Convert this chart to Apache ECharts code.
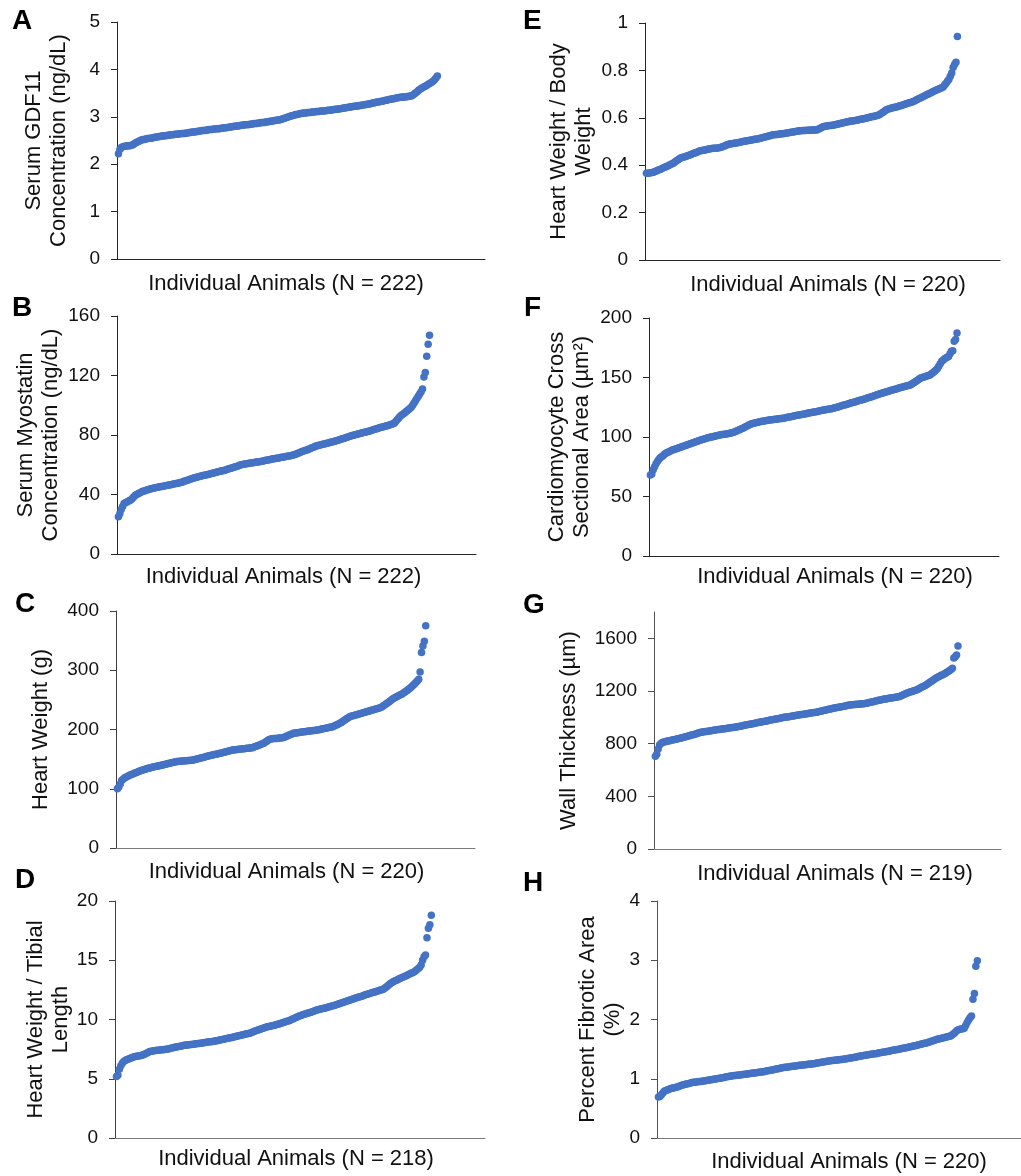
<!DOCTYPE html>
<html><head><meta charset="utf-8">
<script src="https://cdn.jsdelivr.net/npm/echarts@6/dist/echarts.min.js"></script>
<style>html,body{margin:0;padding:0;background:#fff;}#chart{width:1021px;height:1176px;}</style>
</head><body><div id="chart"></div>
<script>
// ---------- DATA (sorted per animal) ----------
const gdf11 = [2.22,2.31,2.35,2.37,2.38,2.38,2.39,2.39,2.39,2.40,2.41,
2.43,2.45,2.47,2.48,2.50,2.51,2.52,
2.52,2.53,2.54,2.54,2.55,2.55,2.56,2.57,2.57,2.58,2.58,2.59,
2.59,2.60,2.60,2.60,2.61,2.61,2.62,2.62,2.62,2.63,2.63,2.63,2.64,2.64,2.65,2.65,
2.65,2.66,2.66,2.67,2.67,2.68,2.68,2.68,2.69,2.69,2.70,
2.70,2.71,2.71,2.71,2.72,2.72,2.73,2.73,2.73,2.74,2.74,2.75,2.75,2.75,2.76,2.76,2.77,2.77,2.77,2.78,2.78,2.79,2.79,
2.80,2.80,2.80,2.81,2.81,2.82,2.82,2.83,2.83,2.83,2.84,2.84,2.85,2.85,2.86,2.86,2.86,2.87,2.87,2.88,2.88,2.88,2.89,2.89,
2.90,2.90,2.91,2.91,2.92,2.92,2.93,2.93,2.94,2.95,
2.96,2.97,2.98,2.99,3.00,3.01,
3.02,3.03,3.04,3.05,3.05,3.06,3.07,
3.07,3.08,3.08,3.08,3.09,3.09,3.09,3.10,3.10,3.10,3.11,3.11,3.11,3.12,3.12,3.12,3.13,3.13,
3.14,3.14,3.14,3.15,3.15,3.16,3.16,3.16,3.17,3.17,3.18,3.18,3.19,3.19,3.20,3.20,
3.21,3.21,3.22,3.22,3.23,3.23,3.24,3.24,3.25,3.25,3.26,3.26,
3.27,3.27,3.28,3.29,3.29,3.30,3.31,3.31,3.32,3.33,3.33,3.34,
3.35,3.35,3.36,3.37,3.37,3.38,3.38,3.39,3.40,3.40,3.41,
3.41,3.42,3.42,3.42,3.43,3.43,3.44,3.44,
3.46,3.48,3.51,3.53,
3.56,3.58,3.60,3.62,
3.64,3.65,3.67,3.69,3.71,
3.73,3.75,3.78,3.82,3.86];

const myostatin = [25,27,30,32,34,
34.5,35,35.5,36,36.5,
37.5,38.5,39.5,40,40.5,
41,41.5,42,42.3,42.6,43,43.2,
43.5,43.8,44,44.2,44.5,44.7,44.9,45.1,45.3,45.4,
45.6,45.8,46,46.2,46.4,46.6,46.8,47,47.2,47.4,47.6,47.7,
48,48.3,48.6,49,49.3,49.6,50,50.3,
50.6,50.9,51.2,51.4,51.7,52,52.2,52.5,52.7,52.9,53.1,53.3,
53.6,53.8,54.1,54.3,54.6,54.8,55.1,55.3,55.6,55.8,56,56.2,
56.5,56.8,57.1,57.4,57.7,58,58.3,58.6,58.9,59.2,59.6,60,
60.2,60.4,60.5,60.7,60.8,61,61.1,61.3,61.4,61.6,61.8,61.9,62.1,62.2,
62.4,62.6,62.8,63,63.2,63.4,63.6,63.8,64,64.1,64.3,64.4,
64.6,64.8,65,65.1,65.3,65.5,65.7,65.9,66.1,66.3,66.5,66.7,
67.1,67.5,67.9,68.3,68.7,69.1,69.4,69.7,70,
70.4,70.8,71.2,71.6,72,72.4,72.7,
73,73.2,73.5,73.7,74,74.2,74.5,74.7,75,75.2,75.4,75.6,
75.9,76.2,76.5,76.8,77.1,77.4,77.7,78,78.3,78.7,79,79.4,
79.6,79.8,80.1,80.3,80.6,80.8,81.1,81.3,81.6,81.8,82.1,82.3,
82.6,82.9,83.2,83.5,83.8,84.1,84.4,84.7,85,85.2,85.5,85.7,
86,86.3,86.6,86.9,87.2,87.5,87.9,
89,90.3,91.3,92.5,93.3,94,94.7,
95.5,96.3,97,97.8,98.6,
100,101.5,103,104.5,106,107.5,
109,111,119,122,133,141,147];

const heartWeight = [100,103,108,114,
116,118,119.5,120.6,
122,123,124,125,
126,127,128,129,130,131,131.8,
132.5,133,134,134.5,135,135.7,136.3,
137,137.5,138,138.5,139,139.5,140,140.6,141.2,141.9,
142.5,143,143.6,144.2,144.7,145.3,145.9,
146.2,146.4,146.6,146.8,147,147.2,147.4,147.6,147.8,148,148.3,148.7,
149.3,149.9,150.5,151.1,151.7,152.3,152.9,153.6,154.3,
154.9,155.5,156,156.6,157.2,157.7,158.3,158.8,159.4,159.9,
160.5,161.1,161.8,162.4,163,163.6,164.2,164.9,165.5,
165.8,166,166.3,166.5,166.8,167,167.3,167.6,167.9,168.2,168.5,168.8,169.1,169.4,
170.3,171.2,172.1,173,174,175,175.9,176.7,
178.5,180.3,182,183.3,184,
184.3,184.6,184.8,185,185.3,185.5,185.8,186,186.3,
187.3,188.5,189.6,190.6,191.6,192.6,193.5,
193.9,194.3,194.6,195,195.3,195.7,196,196.3,196.6,197,197.3,197.6,197.9,198.2,198.5,198.9,199.2,
199.7,200.2,200.7,201.2,201.7,202.2,202.7,203.2,203.7,204.2,204.8,
206,207,208.2,209.3,210.4,
212,213.6,215.2,216.8,218.4,220,221.6,
222.3,223,223.7,224.4,225.1,225.8,226.5,227.2,227.9,228.6,229.3,230,
230.7,231.4,232.1,232.8,233.5,234.2,234.9,235.6,236.3,237,
238.5,240,241.7,243.4,245.1,246.8,248.6,250.5,252.5,
253.7,254.9,256.1,257.3,258.5,259.7,261,
262.8,264.6,266.4,268.2,270,272,
274.5,277,279.5,282,285,
297,330,341,349,375];

const hwTibia = [5.2,5.3,5.8,
6.1,6.3,6.45,6.55,
6.6,6.65,6.7,6.75,6.8,6.85,
6.88,6.9,6.92,6.95,6.97,7.0,7.05,
7.12,7.18,7.24,7.3,
7.32,7.34,7.36,7.38,7.4,7.41,7.42,7.44,7.45,7.47,7.48,7.5,
7.53,7.56,7.59,7.62,7.65,7.67,7.7,7.72,7.75,7.77,7.8,
7.82,7.84,7.85,7.87,7.89,7.9,7.92,7.94,7.95,7.97,7.98,8.0,
8.02,8.04,8.06,8.08,8.1,8.12,8.13,8.15,8.17,8.18,8.2,
8.23,8.26,8.29,8.32,8.34,8.37,8.39,8.42,8.45,8.47,8.5,
8.53,8.56,8.59,8.62,8.65,8.68,8.71,8.74,8.77,8.8,8.82,8.85,
8.9,8.95,9.0,9.05,9.1,9.14,9.18,9.22,9.26,9.3,9.35,
9.38,9.41,9.44,9.47,9.5,9.52,9.55,
9.59,9.63,9.67,9.71,9.75,9.79,9.83,9.87,9.9,
9.96,10.02,10.07,10.13,10.18,10.24,10.3,
10.34,10.38,10.42,10.46,10.5,10.54,10.58,10.62,10.66,10.7,10.75,10.8,
10.83,10.86,10.89,10.92,10.95,10.98,11.01,11.05,11.08,11.12,11.15,
11.19,11.23,11.27,11.31,11.35,11.39,11.43,11.47,11.51,11.56,11.6,11.65,
11.69,11.73,11.77,11.81,11.85,11.89,11.93,11.97,12.01,12.06,12.1,
12.14,12.18,12.21,12.25,12.29,12.33,12.37,12.4,12.44,12.48,12.51,12.55,
12.65,12.75,12.85,12.95,13.05,13.12,13.2,
13.26,13.32,13.38,13.44,13.5,13.55,13.6,
13.66,13.72,13.78,13.84,13.9,13.95,14.0,
14.1,14.2,14.3,14.4,14.6,15.0,15.3,15.45,16.9,17.7,18.0,18.8];

const hwBody = [0.366,0.366,0.367,0.368,0.369,0.370,
0.373,0.376,0.379,0.381,0.383,
0.386,0.389,0.391,0.394,
0.397,0.400,0.403,0.406,0.408,
0.413,0.418,0.422,0.426,0.430,
0.432,0.434,0.436,0.438,0.440,0.442,0.444,
0.447,0.449,0.452,0.454,0.456,0.459,0.461,
0.462,0.463,0.464,0.465,0.467,0.468,0.469,
0.470,0.471,0.471,0.472,0.473,0.474,0.475,
0.477,0.479,0.481,0.484,0.486,0.488,0.490,
0.491,0.492,0.493,0.494,0.495,0.496,0.497,0.499,0.500,
0.501,0.502,0.503,0.504,0.505,0.506,0.507,0.509,0.510,0.511,0.512,0.514,
0.515,0.517,0.518,0.520,0.521,0.523,0.524,0.526,0.528,
0.529,0.530,0.530,0.531,0.532,0.533,0.533,0.534,0.535,0.536,0.537,0.538,
0.539,0.540,0.541,0.542,0.543,0.544,0.545,
0.545,0.546,0.546,0.546,0.547,0.547,0.547,0.548,0.548,0.548,0.549,0.549,
0.552,0.555,0.558,0.561,0.563,
0.564,0.565,0.566,0.567,0.568,0.569,0.570,
0.571,0.573,0.574,0.575,0.577,0.578,0.579,0.581,0.582,0.583,0.585,
0.586,0.587,0.588,0.589,0.590,0.591,0.593,0.594,0.595,0.596,0.597,0.599,
0.600,0.602,0.603,0.605,0.606,0.608,0.609,0.611,0.613,
0.617,0.621,0.625,0.630,0.634,
0.636,0.638,0.640,0.641,0.643,0.645,0.646,0.648,0.650,0.651,
0.653,0.655,0.657,0.659,0.661,0.663,0.665,0.667,0.669,
0.672,0.675,0.678,0.681,0.684,0.687,0.690,
0.693,0.696,0.699,0.702,0.705,0.708,0.711,
0.714,0.716,0.719,0.722,0.725,0.727,0.730,
0.738,0.746,0.754,0.762,
0.775,0.789,0.812,0.825,0.834,0.943];

const csa = [68,69,72.5,
75,77.5,79.5,81,
82.5,83.5,84.3,85.4,86.3,
86.9,87.5,88.1,88.6,89.2,
89.6,90,90.4,90.8,91.2,91.6,92,
92.4,92.8,93.3,93.7,94.1,94.5,95,95.4,
95.8,96.2,96.6,97,97.4,97.8,98.2,98.6,99,
99.3,99.6,99.9,100.1,100.4,100.7,101,101.2,101.5,101.8,
102,102.2,102.4,102.6,102.8,103,103.2,103.5,103.8,
104.3,104.8,105.3,105.8,106.4,106.9,107.4,
108,108.6,109.2,109.8,110.4,111,111.3,111.6,
111.9,112.2,112.5,112.8,113.1,113.3,113.5,113.7,113.9,
114.1,114.2,114.4,114.5,114.7,114.9,115,115.2,115.3,115.5,115.6,115.8,
116,116.3,116.5,116.8,117,117.3,117.5,117.8,118,118.2,118.5,118.7,
118.9,119.2,119.4,119.6,119.9,120.1,120.4,120.6,120.8,121.1,121.3,121.5,
121.7,122,122.2,122.4,122.6,122.9,123.1,123.3,123.6,123.8,124,124.3,
124.6,125,125.3,125.7,126,126.4,126.7,127.1,127.4,127.8,128.1,128.5,
128.8,129.2,129.5,129.9,130.2,130.6,130.9,131.3,131.6,132,132.3,132.7,
133.1,133.5,133.9,134.3,134.7,135.1,135.5,135.9,136.3,136.7,137,137.4,
137.8,138.1,138.5,138.8,139.2,139.5,139.9,140.2,140.6,140.9,141.3,141.7,
142,142.3,142.6,142.9,143.2,143.5,143.9,
144.7,145.5,146.3,147.1,147.9,148.7,149.5,
149.9,150.3,150.7,151.1,151.5,151.9,152.3,
153.3,154.3,155.3,156.3,157.5,
159.5,161.5,163.5,164.5,
165.5,166.3,167,167.7,170,172,
172.5,180.5,182,187.4];

const wall = [705,720,760,790,
802,808,812,815,
818,820,823,825,827,829,
832,834,837,840,842,845,847,
850,853,856,859,862,865,867,
870,874,877,881,885,
887,888,890,892,893,895,897,898,900,902,903,905,
907,908,910,911,913,914,916,917,919,920,922,923,
925,927,929,931,933,935,937,939,941,943,946,948,
950,952,954,956,958,960,962,964,966,968,971,973,
975,977,979,981,983,985,987,989,991,993,996,998,
1000,1002,1003,1005,1007,1009,1010,1012,1014,1015,1017,1019,
1021,1022,1024,1026,1027,1029,1031,1032,1034,1036,1037,1039,
1041,1044,1046,1049,1051,1054,1056,1059,1061,1064,1066,1069,
1071,1073,1075,1077,1079,1081,1083,1085,1087,1089,1092,1094,
1095,1096,1097,1098,1099,1100,1101,1102,1103,1104,1105,1107,
1109,1112,1114,1117,1119,1122,1124,1127,1129,1132,1134,1137,
1139,1140,1142,1144,1146,1147,1149,1151,1153,1154,1156,1158,
1163,1168,1173,1178,1183,
1187,1190,1194,1197,1201,1204,1208,
1213,1218,1224,1230,1235,1240,1246,
1253,1260,1268,1275,1282,1290,1297,
1302,1308,1313,1319,1324,1330,1335,
1342,1349,1356,1364,1372,
1450,1461,1474,1542];

const fibrosis = [0.69,0.70,0.73,
0.76,0.79,0.80,
0.81,0.82,0.83,
0.84,0.845,0.85,0.855,0.86,
0.87,0.88,0.89,0.90,
0.905,0.91,0.915,0.92,0.93,0.935,0.94,
0.943,0.946,0.949,0.952,0.955,0.958,0.962,0.966,0.97,
0.974,0.978,0.982,0.986,0.99,0.994,
0.998,1.003,1.008,1.013,1.018,1.023,1.028,1.033,1.038,1.043,1.047,1.05,
1.053,1.056,1.059,1.062,1.065,1.068,1.071,1.074,1.077,1.08,1.084,
1.088,1.091,1.095,1.098,1.102,1.105,1.109,1.113,1.116,1.12,1.124,
1.129,1.134,1.139,1.144,1.149,1.154,1.159,1.164,1.169,1.174,1.18,
1.184,1.188,1.192,1.195,1.199,1.203,1.206,1.21,1.213,1.217,1.22,
1.223,1.226,1.229,1.232,1.235,1.238,1.241,1.244,1.247,1.25,1.252,1.255,
1.26,1.264,1.269,1.273,1.278,1.282,1.287,1.291,1.295,1.299,1.303,
1.306,1.309,1.312,1.315,1.318,1.321,1.324,1.327,1.33,1.334,1.337,
1.342,1.346,1.351,1.355,1.36,1.364,1.369,1.374,1.378,1.383,1.388,
1.392,1.396,1.4,1.404,1.408,1.412,1.416,1.42,1.424,1.428,1.433,
1.437,1.442,1.447,1.451,1.456,1.461,1.466,1.47,1.475,1.48,1.485,1.489,
1.494,1.499,1.504,1.509,1.514,1.519,1.524,1.529,1.535,1.54,1.545,
1.551,1.557,1.563,1.569,1.575,1.581,1.587,1.593,1.599,1.605,1.612,
1.62,1.628,1.636,1.645,1.653,1.661,1.669,
1.675,1.681,1.687,1.693,1.7,1.706,1.712,1.718,1.725,
1.745,1.765,1.79,1.815,
1.825,1.835,1.84,1.845,1.854,
1.9,1.95,1.99,2.03,2.06,
2.34,2.44,2.9,2.99];

const letters = ['A','B','C','D','E','F','G','H'];
const yTitles = ['Serum GDF11\nConcentration (ng/dL)','Serum Myostatin\nConcentration (ng/dL)','Heart Weight (g)','Heart Weight / Tibial\nLength',
                 'Heart Weight / Body\nWeight','Cardiomyocyte Cross\nSectional Area (\u00b5m\u00b2)','Wall Thickness (\u00b5m)','Percent Fibrotic Area\n(%)'];
const xTitles = ['Individual Animals (N = 222)','Individual Animals (N = 222)','Individual Animals (N = 220)','Individual Animals (N = 218)',
                 'Individual Animals (N = 220)','Individual Animals (N = 220)','Individual Animals (N = 219)','Individual Animals (N = 220)'];
const yMax = [5,160,400,20,1,200,1800,4];
const yInterval = [1,40,100,5,0.2,50,400,1];
const yTickValues = [null,null,null,null,null,null,[0,400,800,1200,1600],null];
const xMax = [255,255,255,255,250,250,250,250];
const series = [gdf11,myostatin,heartWeight,hwTibia,hwBody,csa,wall,fibrosis];

// ---------- LAYOUT ----------
const layout = [
  {grid:{left:117,top:22,width:368,height:237}, nameGap:46, xGap:14, xPad:[0,30,0,0], letter:[12,21], axis:'#262626', xaxis:'#262626'},
  {grid:{left:117,top:316,width:359,height:238}, nameGap:54, xGap:12, xPad:[0,26,0,0], letter:[12,308], axis:'#262626', xaxis:'#262626'},
  {grid:{left:116,top:611,width:359,height:237}, nameGap:63, xGap:13, xPad:[0,18,0,0], letter:[15,604], axis:'#404040', xaxis:'#7a7a7a'},
  {grid:{left:115,top:901,width:370,height:237}, nameGap:40, xGap:10, xPad:[0,8,0,0], letter:[15,880], axis:'#404040', xaxis:'#7a7a7a'},
  {grid:{left:645,top:23,width:355,height:237}, nameGap:49, xGap:14, xPad:[0,0,0,11], letter:[523,21], axis:'#262626', xaxis:'#262626'},
  {grid:{left:649,top:318,width:350,height:238}, nameGap:55, xGap:10, xPad:[0,0,0,22], letter:[524,308], axis:'#262626', xaxis:'#262626'},
  {grid:{left:654,top:612,width:347,height:237}, nameGap:73, xGap:14, xPad:[0,0,0,15], letter:[523,605], axis:'#505050', xaxis:'#7a7a7a'},
  {grid:{left:657,top:901,width:371,height:237}, nameGap:29, xGap:13, xPad:[0,0,0,20], letter:[523,883], axis:'#505050', xaxis:'#7a7a7a'}
];

const FONT = '"Liberation Sans", Arial, sans-serif';
const TXT = '#111111';
const DOT = '#4472C4';

const option = {
  animation:false,
  backgroundColor:'#ffffff',
  grid: layout.map(l => Object.assign({containLabel:false}, l.grid)),
  xAxis: layout.map((l,i) => ({
    type:'value', gridIndex:i, min:0, max:xMax[i],
    axisLine:{show:true, lineStyle:{color:l.xaxis, width:1}},
    axisTick:{show:false}, axisLabel:{show:false}, splitLine:{show:false},
    name:xTitles[i], nameLocation:'middle', nameGap:l.xGap,
    nameTextStyle:{fontFamily:FONT, fontSize:22, color:TXT, padding:l.xPad, verticalAlign:'top'}
  })),
  yAxis: layout.map((l,i) => {
    const ax = {
      type:'value', gridIndex:i, min:0, max:yMax[i], interval:yInterval[i],
      axisLine:{show:true, onZero:false, lineStyle:{color:l.axis, width:1}},
      axisTick:{show:true, inside:false, length:6, lineStyle:{color:l.axis}},
      axisLabel:{fontFamily:FONT, fontSize:19, color:TXT, margin:17,
        formatter: v => (yTickValues[i] && yTickValues[i].indexOf(v) < 0) ? '' : String(v)},
      splitLine:{show:false},
      name:yTitles[i], nameLocation:'middle', nameRotate:90, nameGap:l.nameGap,
      nameTextStyle:{fontFamily:FONT, fontSize:22, lineHeight:25, color:TXT, align:'center'}
    };
    if (yTickValues[i]) {
      ax.axisTick.customValues = yTickValues[i];
      ax.axisLabel.customValues = yTickValues[i];
    }
    return ax;
  }),
  series: series.map((arr,i) => ({
    type:'scatter', xAxisIndex:i, yAxisIndex:i,
    symbol:'circle', symbolSize:7.5,
    itemStyle:{color:DOT, opacity:1},
    data: arr.map((v,k) => [k+1, v])
  })),
  graphic: layout.map((l,i) => ({
    type:'text', x:l.letter[0], y:l.letter[1],
    style:{text:letters[i], font:'bold 28px ' + FONT, fill:'#000', textVerticalAlign:'middle', verticalAlign:'middle'}
  }))
};

const chart = echarts.init(document.getElementById('chart'), null, {renderer:'canvas', width:1021, height:1176});
chart.setOption(option);
</script>
</body></html>
